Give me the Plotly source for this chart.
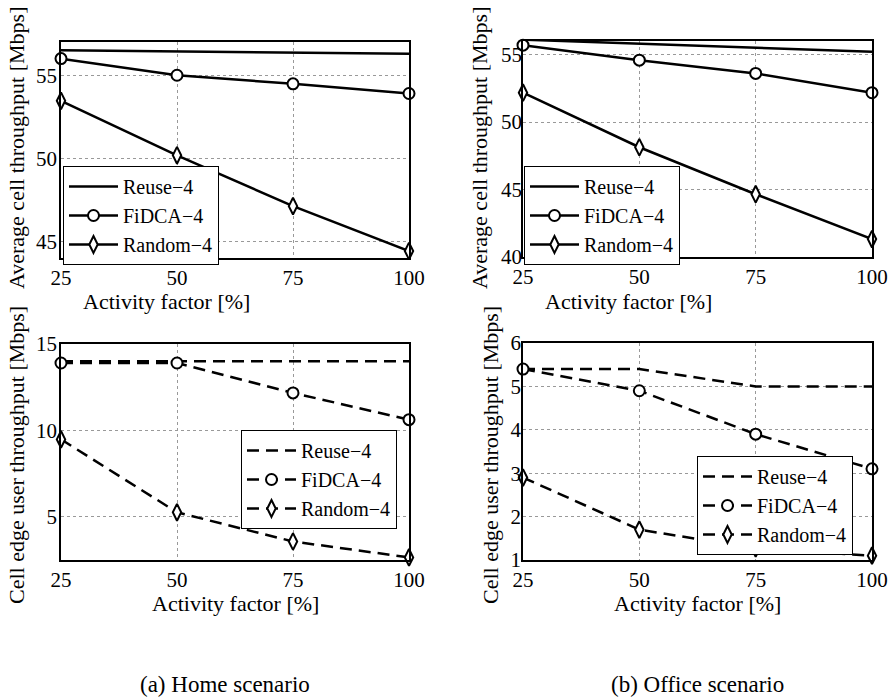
import plotly.graph_objects as go

# ---------------- data ----------------
activity = [25, 50, 75, 100]
x_ticks = [25, 50, 75, 100]

home_avg_reuse = [56.5, 56.42, 56.36, 56.3]
home_avg_fidca = [56.0, 55.0, 54.48, 53.9]
home_avg_random = [53.46, 50.18, 47.12, 44.42]

office_avg_reuse = [56.1, 55.8, 55.5, 55.2]
office_avg_fidca = [55.69, 54.58, 53.6, 52.17]
office_avg_random = [52.17, 48.13, 44.65, 41.33]

home_edge_reuse = [14.0, 14.0, 14.0, 14.0]
home_edge_fidca = [13.9, 13.9, 12.17, 10.62]
home_edge_random = [9.48, 5.26, 3.57, 2.65]

office_edge_reuse = [5.4, 5.4, 5.0, 5.0]
office_edge_fidca = [5.4, 4.9, 3.9, 3.1]
office_edge_random = [2.9, 1.7, 1.27, 1.1]

series_names = ["Reuse\u22124", "FiDCA\u22124", "Random\u22124"]
y_title_avg = "Average cell throughput [Mbps]"
y_title_edge = "Cell edge user throughput [Mbps]"
x_title = "Activity factor [%]"
captions = ["(a) Home scenario", "(b) Office scenario"]

# ---------------- layout helpers ----------------
W, H = 894, 697
FONT = "Liberation Serif"


def px_x(p):
    return p / W


def px_y(p):
    return 1 - p / H


fig = go.Figure()

panels = [
    dict(xa="x", ya="y", lg="legend", l=61, r=409, t=42, b=258, yr=[44, 57], yt=[45, 50, 55],
         data=[home_avg_reuse, home_avg_fidca, home_avg_random], dash="solid", leg=(63, 166), ystand=-2),
    dict(xa="x2", ya="y2", lg="legend2", l=523, r=872, t=41, b=257, yr=[40, 56], yt=[40, 45, 50, 55],
         data=[office_avg_reuse, office_avg_fidca, office_avg_random], dash="solid", leg=(524, 166), ystand=-5),
    dict(xa="x3", ya="y3", lg="legend3", l=61, r=409, t=344, b=560, yr=[2.5, 15], yt=[5, 10, 15],
         data=[home_edge_reuse, home_edge_fidca, home_edge_random], dash="12px,7px", leg=(241, 430), ystand=-2),
    dict(xa="x4", ya="y4", lg="legend4", l=523, r=872, t=343, b=560, yr=[1, 6], yt=[1, 2, 3, 4, 5, 6],
         data=[office_edge_reuse, office_edge_fidca, office_edge_random], dash="12px,7px", leg=(697, 456), ystand=-4),
]

markers = [None, "circle", "diamond-tall"]

for p in panels:
    for name, ys, mk in zip(series_names, p["data"], markers):
        kw = dict(
            x=activity, y=ys, name=name, xaxis=p["xa"], yaxis=p["ya"], legend=p["lg"],
            line=dict(color="black", width=2.5, dash=p["dash"]),
            showlegend=True,
        )
        if mk is None:
            kw["mode"] = "lines"
        else:
            kw["mode"] = "lines+markers"
            kw["marker"] = dict(symbol=mk, size=11 if mk == "circle" else 12, color="white",
                                line=dict(color="black", width=2))
            kw["cliponaxis"] = False
        fig.add_trace(go.Scatter(**kw))

axis_common = dict(
    showline=True, linecolor="black", linewidth=1.5, mirror=True,
    showgrid=True, gridcolor="#999999", griddash="dot", gridwidth=1,
    zeroline=False, ticks="", automargin=False,
    tickfont=dict(family=FONT, size=21, color="black"),
)

layout_axes = {}
for i, p in enumerate(panels):
    suffix = "" if i == 0 else str(i + 1)
    layout_axes["xaxis" + suffix] = dict(
        axis_common, domain=[px_x(p["l"]), px_x(p["r"])], range=[25, 100],
        tickvals=x_ticks, anchor=p["ya"], ticklabelstandoff=0,
    )
    layout_axes["yaxis" + suffix] = dict(
        axis_common, domain=[px_y(p["b"]), px_y(p["t"])], range=p["yr"],
        tickvals=p["yt"], anchor=p["xa"], ticklabelstandoff=p["ystand"],
    )
    lx, ly = p["leg"]
    layout_axes[p["lg"]] = dict(
        x=px_x(lx), y=px_y(ly), xanchor="left", yanchor="top",
        bgcolor="white", bordercolor="black", borderwidth=1,
        font=dict(family=FONT, size=20, color="black"),
        tracegroupgap=0, itemwidth=49,
    )

annotations = []
ytitles = [(16, 148, y_title_avg), (479, 148, y_title_avg), (16, 455, y_title_edge), (490, 455, y_title_edge)]
for cx, cy, t in ytitles:
    annotations.append(dict(
        x=px_x(cx), y=px_y(cy), xref="paper", yref="paper", text=t, textangle=-90,
        showarrow=False, xanchor="center", yanchor="middle",
        font=dict(family=FONT, size=22, color="black"),
    ))
xtitles = [(166, 301), (628, 301), (235, 603), (697, 603)]
for cx, cy in xtitles:
    annotations.append(dict(
        x=px_x(cx), y=px_y(cy), xref="paper", yref="paper", text=x_title,
        showarrow=False, xanchor="center", yanchor="middle",
        font=dict(family=FONT, size=22, color="black"),
    ))
for cx, t in zip([225, 697], captions):
    annotations.append(dict(
        x=px_x(cx), y=px_y(684), xref="paper", yref="paper", text=t,
        showarrow=False, xanchor="center", yanchor="middle",
        font=dict(family=FONT, size=23, color="black"),
    ))

fig.update_layout(
    template="none",
    width=W, height=H, margin=dict(l=0, r=0, t=0, b=0, pad=0, autoexpand=False),
    paper_bgcolor="white", plot_bgcolor="white",
    font=dict(family=FONT, color="black"),
    annotations=annotations, **layout_axes,
)

fig.write_html(
    "out.html",
    config={"displayModeBar": False},
    post_script="document.body.style.margin='0';document.body.style.padding='0';",
)
